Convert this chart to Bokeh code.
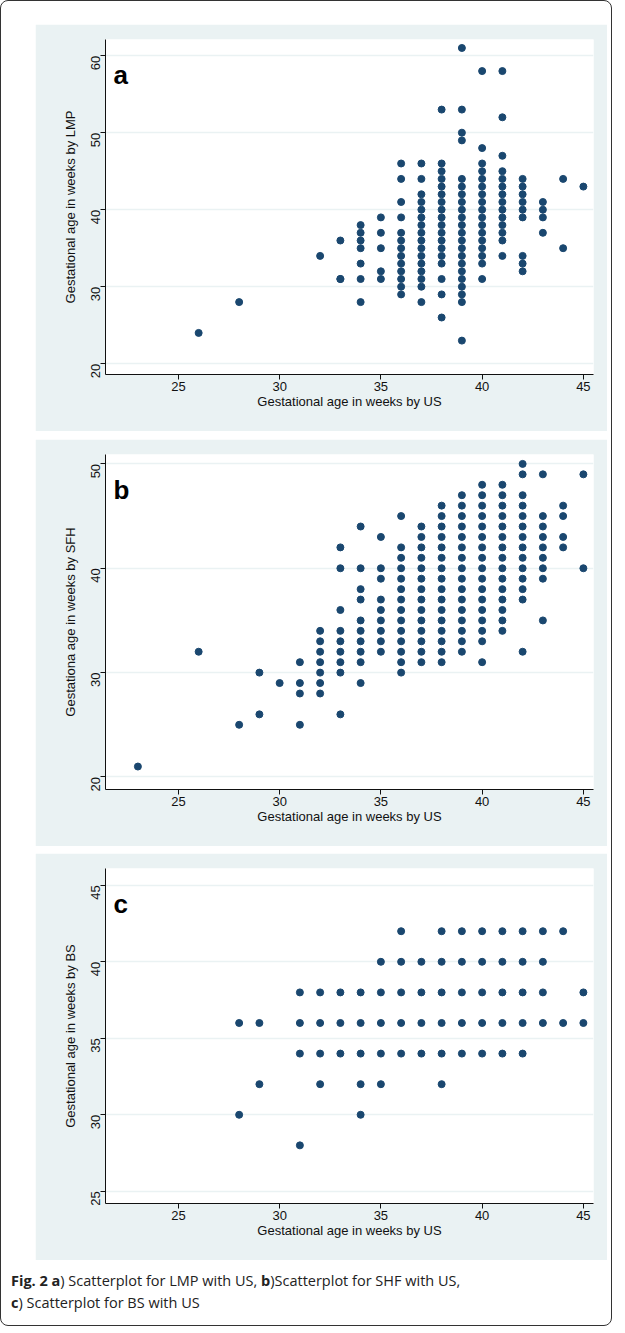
import math
from bokeh.plotting import figure
from bokeh.layouts import column
from bokeh.models import Label, Div, ColumnDataSource
from bokeh.embed import file_html
from bokeh.resources import INLINE

# x = US weeks, list of y values per x
lmp = {
    26: [24], 28: [28], 32: [34], 33: [36, 31, 31],
    34: [38, 37, 36, 35, 33, 31, 28],
    35: [39, 37, 35, 32, 31],
    36: [46, 44, 41, 39, 37, 36, 35, 34, 33, 32, 31, 30, 29],
    37: [46, 44, 42, 41, 40, 39, 38, 37, 36, 35, 34, 33, 32, 31, 30, 28],
    38: [53, 46, 45, 44, 43, 42, 41, 40, 39, 38, 37, 36, 35, 34, 33, 31, 29, 26],
    39: [61, 53, 50, 49, 44, 43, 42, 41, 40, 39, 38, 37, 36, 35, 34, 33, 32, 31, 30, 29, 28, 23],
    40: [58, 48, 46, 45, 44, 43, 42, 41, 40, 39, 38, 37, 36, 35, 34, 33, 31],
    41: [58, 52, 47, 45, 44, 43, 42, 41, 40, 39, 38, 37, 36, 34],
    42: [44, 43, 42, 41, 40, 39, 34, 33, 32],
    43: [41, 40, 39, 37],
    44: [44, 35],
    45: [43],
}
sfh = {
    23: [21], 26: [32], 28: [25], 29: [30, 26], 30: [29],
    31: [31, 29, 28, 25],
    32: [34, 33, 32, 31, 30, 29, 28],
    33: [42, 40, 36, 34, 33, 32, 31, 30, 26],
    34: [44, 40, 38, 37, 35, 34, 33, 32, 31, 29],
    35: [43, 40, 39, 37, 36, 35, 34, 33, 32],
    36: [45, 42, 41, 40, 39, 38, 37, 36, 35, 34, 33, 32, 31, 30],
    37: [44, 43, 42, 41, 40, 39, 38, 37, 36, 35, 34, 33, 32, 31],
    38: [46, 45, 44, 43, 42, 41, 40, 39, 38, 37, 36, 35, 34, 33, 32, 31],
    39: [47, 46, 45, 44, 43, 42, 41, 40, 39, 38, 37, 36, 35, 34, 33, 32],
    40: [48, 47, 46, 45, 44, 43, 42, 41, 40, 39, 38, 37, 36, 35, 34, 33, 31],
    41: [48, 47, 46, 45, 44, 43, 42, 41, 40, 39, 38, 37, 36, 35, 34],
    42: [50, 49, 47, 46, 45, 44, 43, 42, 41, 40, 39, 38, 37, 32],
    43: [49, 45, 44, 43, 42, 41, 40, 39, 35],
    44: [46, 45, 43, 42],
    45: [49, 40],
}
bs = {
    28: [36, 30], 29: [36, 32], 31: [38, 36, 34, 28], 32: [38, 36, 34, 32],
    33: [38, 36, 34], 34: [38, 36, 34, 32, 30], 35: [40, 38, 36, 34, 32],
    36: [42, 40, 38, 36, 34], 37: [40, 38, 36, 34], 38: [42, 40, 38, 36, 34, 32],
    39: [42, 40, 38, 36, 34], 40: [42, 40, 38, 36, 34], 41: [42, 40, 38, 36, 34],
    42: [42, 40, 38, 36, 34], 43: [42, 40, 38, 36], 44: [42, 36], 45: [38, 36],
}

x_ticks = [25, 30, 35, 40, 45]
FONT = "Liberation Sans"
BG = "#eaf2f3"
DOT = "#1a476f"


def panel(data, letter, ylabel, y_range, y_ticks, top_margin):
    xs = [x for x, ys in data.items() for _ in ys]
    ys = [y for _, yl in data.items() for y in yl]
    src = ColumnDataSource(dict(x=xs, y=ys))
    p = figure(width=572, height=407, x_range=(21.4, 45.5), y_range=y_range,
               output_backend="svg", toolbar_location=None,
               min_border_left=70, min_border_right=14, min_border_top=15, min_border_bottom=57,
               border_fill_color=BG, background_fill_color="white", outline_line_color=None,
               margin=(top_margin, 0, 0, 34))
    p.scatter("x", "y", source=src, size=7, color=DOT)
    p.xgrid.visible = False
    p.ygrid.grid_line_color = BG
    p.ygrid.grid_line_width = 1.5
    p.xaxis.ticker = x_ticks
    p.yaxis.ticker = y_ticks
    p.yaxis.major_label_orientation = math.pi / 2
    for ax in (p.xaxis[0], p.yaxis[0]):
        ax.major_label_text_font = FONT
        ax.major_label_text_font_size = "13px"
        ax.major_label_text_color = "#111"
        ax.axis_label_text_font = FONT
        ax.axis_label_text_font_size = "13px"
        ax.axis_label_text_font_style = "normal"
        ax.axis_label_text_color = "#111"
        ax.minor_tick_line_color = None
        ax.major_tick_in = 0
        ax.major_tick_out = 5
        ax.axis_line_color = "#111"
        ax.major_tick_line_color = "#111"
    p.xaxis.axis_label = "Gestational age in weeks by US"
    p.xaxis.axis_label_standoff = 0
    p.xaxis.major_label_standoff = 2
    p.yaxis.axis_label = ylabel
    p.yaxis.axis_label_standoff = 6
    p.add_layout(Label(x=8, y=y_range[1], x_units="screen", y_offset=-50, text=letter,
                       text_font=FONT, text_font_size="26px", text_font_style="bold",
                       text_color="black"))
    return p


pa = panel(lmp, "a", "Gestational age in weeks by LMP", (18.6, 62.1), [20, 30, 40, 50, 60], 23)
pb = panel(sfh, "b", "Gestationa age in weeks by SFH", (18.8, 50.9), [20, 30, 40, 50], 8)
pc = panel(bs, "c", "Gestational age in weeks by BS", (24.2, 46.1), [25, 30, 35, 40, 45], 7)

cap = Div(text="<b>Fig. 2 a</b>) Scatterplot for LMP with US, <b>b</b>)Scatterplot for SHF with US,<br>"
               "<b>c</b>) Scatterplot for BS with US",
          width=600, margin=(10, 0, 0, 10),
          styles={"font-family": "Open Sans", "font-size": "14.5px", "line-height": "1.55", "color": "#222"})

layout = column(pa, pb, pc, cap, spacing=0,
                styles={"border": "1px solid #333", "border-radius": "8px", "padding-bottom": "10px"})

open("out.html", "w").write(file_html(layout, INLINE))
